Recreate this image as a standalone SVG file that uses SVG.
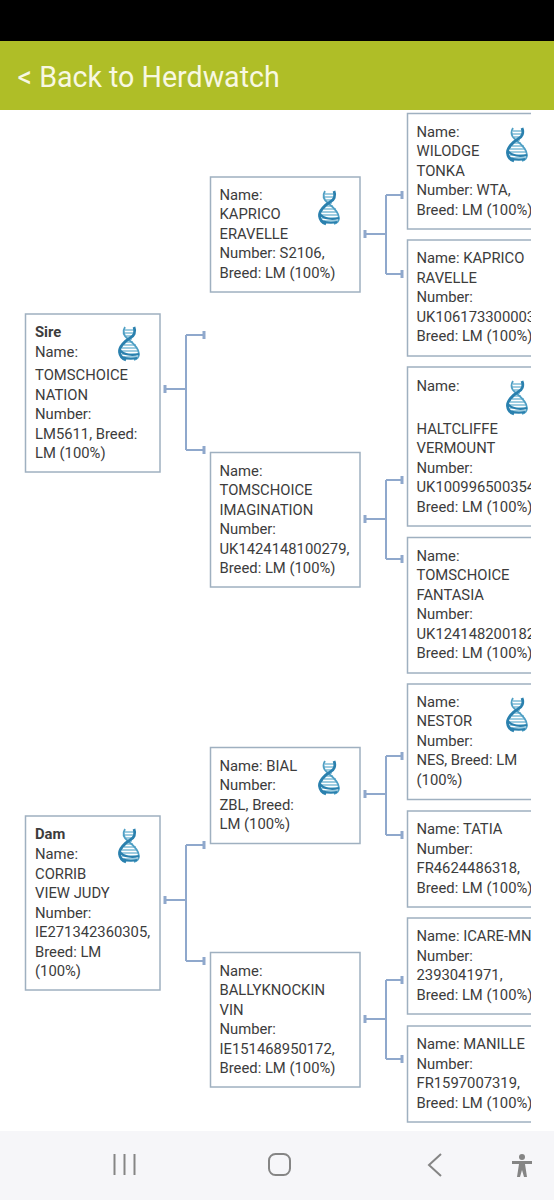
<svg xmlns="http://www.w3.org/2000/svg" width="554" height="1200" viewBox="0 0 554 1200">
<style>
.box{fill:#fff;stroke:#9fb0c0;stroke-width:1.5}
.t{font-family:Roboto,"Liberation Sans",sans-serif;font-size:14.8px;fill:#3c3c3c}
.b{font-weight:700}
.c{fill:none;stroke:#8fa8cc;stroke-width:2}
.k{fill:none;stroke:#8fa8cc;stroke-width:3}
.nav{fill:none;stroke:#858585;stroke-width:2}
</style>
<defs>
<clipPath id="cut"><rect x="0" y="110" width="531" height="1021"/></clipPath>
<g id="dna" fill="none">
<path d="M15 3H6M16 6H5M15 9H7M13 12H9M7 15H14M5 18H17M3 21H18M1 24H20M3 27H20M5 30H18" stroke="#7dbcd6" stroke-width="1.3"/>
<path d="M6 0C3 5 5 9 9 12C14 16 20 21 20 27C20 30 18 32 15 33" stroke="#4f9fc4" stroke-width="1.8"/>
<path d="M15 0C17 5 15 9 11 11C6 14 0 20 0.500 25C1 29 4 32 7 33" stroke="#2a80ae" stroke-width="2.8"/>
<path d="M0.500 23C5 28 13 29 20 27M3 30C8 32 14 32 18 31" stroke="#2a80ae" stroke-width="2"/>
</g>
</defs>
<rect width="554" height="1200" fill="#fff"/>
<rect id="status" width="554" height="41" fill="#000"/>
<g id="header"><rect y="41" width="554" height="69" fill="#afbe27"/><text x="17.500" y="87" font-family="Roboto,'Liberation Sans',sans-serif" font-size="28.600px" fill="#f8f8e2">&lt; Back to Herdwatch</text></g>
<g id="connectors">
<path class="c" d="M165 389H186M186 335V450M186 335H204M186 450H204"/>
<path class="k" d="M165 385V393M204 331V339M204 446V454"/>
<path class="c" d="M165 900H186M186 845V961M186 845H204M186 961H204"/>
<path class="k" d="M165 896V904M204 841V849M204 957V965"/>
<path class="c" d="M365 234H386M386 195V274M386 195H402M386 274H402"/>
<path class="k" d="M365 230V238M402 191V199M402 270V278"/>
<path class="c" d="M365 519H386M386 480V559M386 480H402M386 559H402"/>
<path class="k" d="M365 515V523M402 476V484M402 555V563"/>
<path class="c" d="M365 794H386M386 756V835M386 756H402M386 835H402"/>
<path class="k" d="M365 790V798M402 752V760M402 831V839"/>
<path class="c" d="M365 1019H386M386 980V1059M386 980H402M386 1059H402"/>
<path class="k" d="M365 1015V1023M402 976V984M402 1055V1063"/>
</g>
<g id="sire"><rect class="box" x="25.500" y="314" width="134.500" height="158"/><text class="t"><tspan class="b" x="35" y="337">Sire</tspan><tspan x="35" y="357">Name:</tspan><tspan x="35" y="380">TOMSCHOICE</tspan><tspan x="35" y="400">NATION</tspan><tspan x="35" y="419">Number:</tspan><tspan x="35" y="439">LM5611, Breed:</tspan><tspan x="35" y="458">LM (100%)</tspan></text><use href="#dna" x="119" y="327"/></g>
<g id="dam"><rect class="box" x="25.500" y="816" width="134.500" height="174"/><text class="t"><tspan class="b" x="35" y="839">Dam</tspan><tspan x="35" y="859">Name:</tspan><tspan x="35" y="879">CORRIB</tspan><tspan x="35" y="898">VIEW JUDY</tspan><tspan x="35" y="918">Number:</tspan><tspan x="35" y="937">IE271342360305,</tspan><tspan x="35" y="957">Breed: LM</tspan><tspan x="35" y="976">(100%)</tspan></text><use href="#dna" x="119" y="829"/></g>
<g id="eravelle"><rect class="box" x="210.500" y="177" width="149.500" height="115"/><text class="t"><tspan x="219.500" y="200">Name:</tspan><tspan x="219.500" y="219">KAPRICO</tspan><tspan x="219.500" y="239">ERAVELLE</tspan><tspan x="219.500" y="258">Number: S2106,</tspan><tspan x="219.500" y="278">Breed: LM (100%)</tspan></text><use href="#dna" x="319" y="191"/></g>
<g id="imagination"><rect class="box" x="210.500" y="452.500" width="149.500" height="134.500"/><text class="t"><tspan x="219.500" y="476">Name:</tspan><tspan x="219.500" y="495">TOMSCHOICE</tspan><tspan x="219.500" y="515">IMAGINATION</tspan><tspan x="219.500" y="534">Number:</tspan><tspan x="219.500" y="554">UK1424148100279,</tspan><tspan x="219.500" y="573">Breed: LM (100%)</tspan></text></g>
<g id="bial"><rect class="box" x="210.500" y="747.500" width="149.500" height="96"/><text class="t"><tspan x="219.500" y="771">Name: BIAL</tspan><tspan x="219.500" y="790">Number:</tspan><tspan x="219.500" y="810">ZBL, Breed:</tspan><tspan x="219.500" y="829">LM (100%)</tspan></text><use href="#dna" x="319" y="761"/></g>
<g id="vin"><rect class="box" x="210.500" y="952.500" width="149.500" height="134.500"/><text class="t"><tspan x="219.500" y="976">Name:</tspan><tspan x="219.500" y="995">BALLYKNOCKIN</tspan><tspan x="219.500" y="1015">VIN</tspan><tspan x="219.500" y="1034">Number:</tspan><tspan x="219.500" y="1054">IE151468950172,</tspan><tspan x="219.500" y="1073">Breed: LM (100%)</tspan></text></g>
<g clip-path="url(#cut)">
<g id="tonka"><rect class="box" x="407.500" y="113.500" width="140" height="115.500"/><text class="t"><tspan x="416.500" y="137">Name:</tspan><tspan x="416.500" y="156">WILODGE</tspan><tspan x="416.500" y="176">TONKA</tspan><tspan x="416.500" y="195">Number: WTA,</tspan><tspan x="416.500" y="215">Breed: LM (100%)</tspan></text><use href="#dna" x="507" y="128"/></g>
<g id="ravelle"><rect class="box" x="407.500" y="240" width="140" height="116"/><text class="t"><tspan x="416.500" y="263">Name: KAPRICO</tspan><tspan x="416.500" y="283">RAVELLE</tspan><tspan x="416.500" y="302">Number:</tspan><tspan x="416.500" y="322">UK106173300003</tspan><tspan x="416.500" y="341">Breed: LM (100%)</tspan></text></g>
<g id="vermount"><rect class="box" x="407.500" y="367" width="140" height="159"/><text class="t"><tspan x="416.500" y="391">Name:</tspan><tspan x="416.500" y="434">HALTCLIFFE</tspan><tspan x="416.500" y="453">VERMOUNT</tspan><tspan x="416.500" y="473">Number:</tspan><tspan x="416.500" y="492">UK100996500354</tspan><tspan x="416.500" y="512">Breed: LM (100%)</tspan></text><use href="#dna" x="507" y="381"/></g>
<g id="fantasia"><rect class="box" x="407.500" y="537.500" width="140" height="135.500"/><text class="t"><tspan x="416.500" y="561">Name:</tspan><tspan x="416.500" y="580">TOMSCHOICE</tspan><tspan x="416.500" y="600">FANTASIA</tspan><tspan x="416.500" y="619">Number:</tspan><tspan x="416.500" y="639">UK124148200182</tspan><tspan x="416.500" y="658">Breed: LM (100%)</tspan></text></g>
<g id="nestor"><rect class="box" x="407.500" y="684" width="140" height="115.500"/><text class="t"><tspan x="416.500" y="707">Name:</tspan><tspan x="416.500" y="726">NESTOR</tspan><tspan x="416.500" y="746">Number:</tspan><tspan x="416.500" y="765">NES, Breed: LM</tspan><tspan x="416.500" y="785">(100%)</tspan></text><use href="#dna" x="507" y="698"/></g>
<g id="tatia"><rect class="box" x="407.500" y="811" width="140" height="96"/><text class="t"><tspan x="416.500" y="834">Name: TATIA</tspan><tspan x="416.500" y="854">Number:</tspan><tspan x="416.500" y="873">FR4624486318,</tspan><tspan x="416.500" y="893">Breed: LM (100%)</tspan></text></g>
<g id="icare"><rect class="box" x="407.500" y="918" width="140" height="96"/><text class="t"><tspan x="416.500" y="941">Name: ICARE-MN</tspan><tspan x="416.500" y="961">Number:</tspan><tspan x="416.500" y="980">2393041971,</tspan><tspan x="416.500" y="1000">Breed: LM (100%)</tspan></text></g>
<g id="manille"><rect class="box" x="407.500" y="1026" width="140" height="96"/><text class="t"><tspan x="416.500" y="1049">Name: MANILLE</tspan><tspan x="416.500" y="1069">Number:</tspan><tspan x="416.500" y="1088">FR1597007319,</tspan><tspan x="416.500" y="1108">Breed: LM (100%)</tspan></text></g>
</g>
<g id="navbar"><rect y="1131" width="554" height="69" fill="#f6f6f9"/>
<path class="nav" d="M114.500 1154V1175M124.500 1154V1175M134.500 1154V1175M441 1154L429 1165L441 1176"/>
<rect class="nav" x="269" y="1154" width="21" height="21" rx="6.500"/>
<g fill="#858585"><circle cx="522" cy="1157" r="3"/><path d="M512 1161H532V1164H525L527 1177H524L522 1170L520 1177H517L519 1164H512Z"/></g>
</g>
</svg>
